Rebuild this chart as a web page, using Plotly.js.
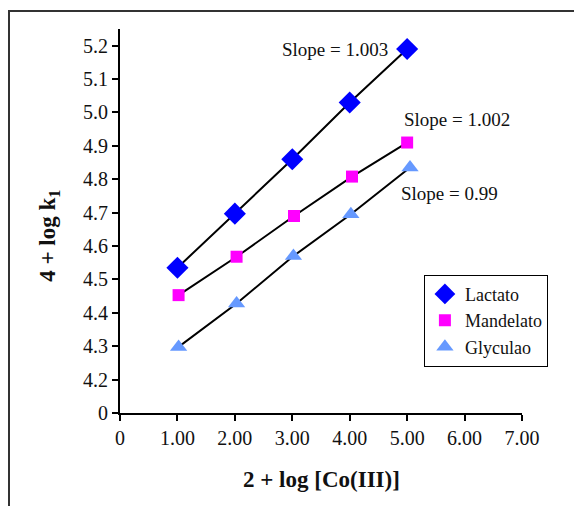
<!DOCTYPE html>
<html>
<head>
<meta charset="utf-8">
<script src="https://cdn.plot.ly/plotly-3.0.1.min.js"></script>
<style>
  html, body { margin: 0; padding: 0; background: #fff; }
  #wrap { position: relative; width: 574px; height: 506px; overflow: hidden; }
  #frame { position: absolute; left: 8px; top: 10px; width: 600px; height: 600px;
           border-left: 2px solid #333; border-top: 2px solid #333; pointer-events: none; }
  #chart { position: absolute; left: 0; top: 0; width: 574px; height: 506px; }
</style>
</head>
<body>
<div id="wrap">
  <div id="chart"></div>
  <div id="frame"></div>
</div>
<script>
// Data
const lactatoX = [1.00, 2.00, 3.00, 4.00, 5.00];
const lactatoY = [4.535, 4.697, 4.860, 5.030, 5.190];

const mandelatoX = [1.02, 2.03, 3.03, 4.04, 5.00];
const mandelatoY = [4.453, 4.568, 4.690, 4.808, 4.910];

const glyculaoX = [1.02, 2.03, 3.02, 4.02, 5.05];
const glyculaoY = [4.298, 4.428, 4.570, 4.695, 4.835];

// Axis ticks (y axis is broken: lowest tick is labelled 0)
const xTickVals = [0, 1, 2, 3, 4, 5, 6, 7];
const xTickText = ["0", "1.00", "2.00", "3.00", "4.00", "5.00", "6.00", "7.00"];
const yTickVals = [4.1, 4.2, 4.3, 4.4, 4.5, 4.6, 4.7, 4.8, 4.9, 5.0, 5.1, 5.2];
const yTickText = ["0", "4.2", "4.3", "4.4", "4.5", "4.6", "4.7", "4.8", "4.9", "5.0", "5.1", "5.2"];

const slopeLabels = ["Slope = 1.003", "Slope = 1.002", "Slope = 0.99"];
const slopeX = [3.75, 5.87, 5.73];
const slopeY = [5.188, 4.978, 4.757];

const xTitle = "<b>2 + log [Co(III)]</b>";
const yTitle = "<b>4 + log k<sub>1</sub></b>";

const serif = "'Liberation Serif'";

function lineTrace(x, y) {
  return { x: x, y: y, mode: "lines", type: "scatter", showlegend: false,
           hoverinfo: "skip", line: { color: "#000", width: 2 } };
}
function markerTrace(x, y, name, symbol, color, size) {
  return { x: x, y: y, mode: "markers", type: "scatter", name: name,
           marker: { symbol: symbol, color: color, size: size, line: { width: 0 } } };
}

const traces = [
  lineTrace(lactatoX, lactatoY),
  lineTrace(mandelatoX, mandelatoY),
  lineTrace(glyculaoX, glyculaoY),
  markerTrace(lactatoX, lactatoY, "Lactato", "diamond", "#0000FF", 17),
  markerTrace(mandelatoX, mandelatoY, "Mandelato", "square", "#FF00FF", 12),
  markerTrace(glyculaoX, glyculaoY, "Glyculao", "triangle-up", "#6699FF", 15)
];

const annotations = slopeLabels.map((t, i) => ({
  text: t, x: slopeX[i], y: slopeY[i], xref: "x", yref: "y",
  showarrow: false, font: { family: serif, size: 19, color: "#111" }
}));
annotations.push({
  text: xTitle, xref: "paper", yref: "paper", x: 0.5, y: -0.172,
  xanchor: "center", yanchor: "middle", showarrow: false,
  font: { family: serif, size: 23, color: "#111" }
});
annotations.push({
  text: yTitle, xref: "paper", yref: "paper", x: -0.177, y: 0.461,
  xanchor: "center", yanchor: "middle", showarrow: false, textangle: -90,
  font: { family: serif, size: 23, color: "#111" }
});

const layout = {
  width: 574, height: 506,
  margin: { l: 120, r: 52, t: 29, b: 93 },
  paper_bgcolor: "rgba(0,0,0,0)", plot_bgcolor: "rgba(0,0,0,0)",
  font: { family: serif, size: 19, color: "#111" },
  showlegend: true,
  legend: {
    x: 0.756, y: 0.36, xanchor: "left", yanchor: "top",
    bgcolor: "#fff", bordercolor: "#000", borderwidth: 1,
    font: { family: serif, size: 18, color: "#111" },
    itemwidth: 30, tracegroupgap: 0
  },
  xaxis: {
    range: [0, 7], tickvals: xTickVals, ticktext: xTickText,
    showgrid: false, zeroline: false, showline: true, linecolor: "#000", linewidth: 2,
    ticks: "outside", ticklen: 6, tickwidth: 2, tickcolor: "#000",
    tickfont: { family: serif, size: 20, color: "#111" }
  },
  yaxis: {
    range: [4.1, 5.25], tickvals: yTickVals, ticktext: yTickText,
    showgrid: false, zeroline: false, showline: true, linecolor: "#000", linewidth: 2,
    ticks: "outside", ticklen: 6, tickwidth: 2, tickcolor: "#000",
    tickfont: { family: serif, size: 20, color: "#111" }
  },
  annotations: annotations
};

Plotly.newPlot("chart", traces, layout, { displayModeBar: false, staticPlot: true });
</script>
</body>
</html>
